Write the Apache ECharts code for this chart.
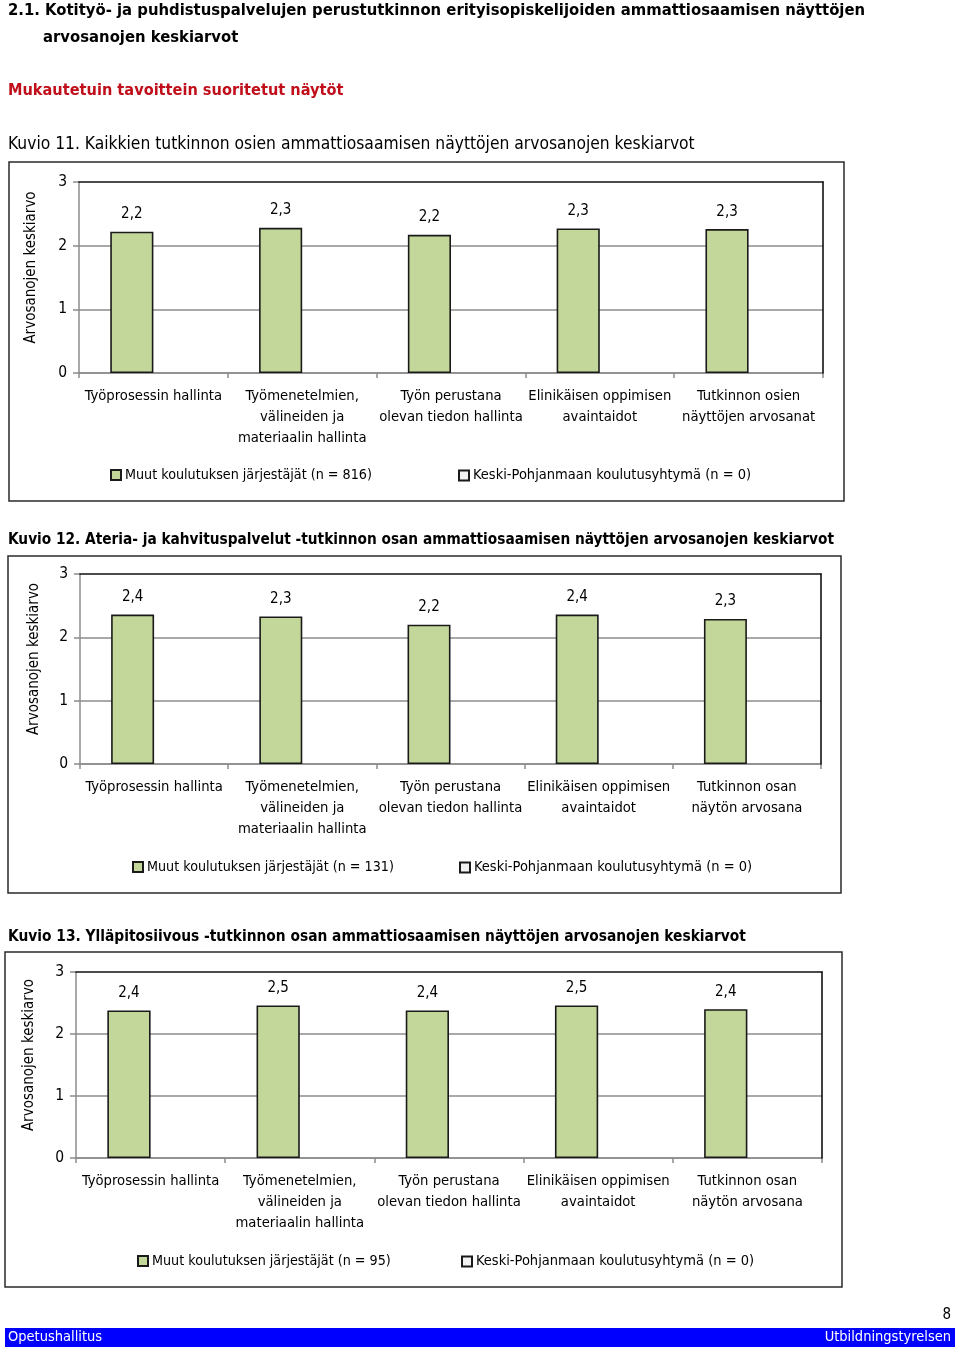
<!DOCTYPE html>
<html>
<head>
<meta charset="utf-8">
<script src="https://cdn.jsdelivr.net/npm/echarts@6/dist/echarts.min.js"></script>
<style>
html,body{margin:0;padding:0;background:#fff;}
#main{width:960px;height:1356px;}
</style>
</head>
<body>
<div id="main"></div>
<script>
// ---- Data ----
const categoriesKuvio11 = ["Työprosessin hallinta", "Työmenetelmien,\nvälineiden ja\nmateriaalin hallinta", "Työn perustana\nolevan tiedon hallinta", "Elinikäisen oppimisen\navaintaidot", "Tutkinnon osien\nnäyttöjen arvosanat"];
const categoriesKuvio12 = ["Työprosessin hallinta", "Työmenetelmien,\nvälineiden ja\nmateriaalin hallinta", "Työn perustana\nolevan tiedon hallinta", "Elinikäisen oppimisen\navaintaidot", "Tutkinnon osan\nnäytön arvosana"];
const categoriesKuvio13 = ["Työprosessin hallinta", "Työmenetelmien,\nvälineiden ja\nmateriaalin hallinta", "Työn perustana\nolevan tiedon hallinta", "Elinikäisen oppimisen\navaintaidot", "Tutkinnon osan\nnäytön arvosana"];

const muutKuvio11 = [2.22, 2.28, 2.17, 2.27, 2.26];
const muutKuvio12 = [2.36, 2.33, 2.20, 2.36, 2.29];
const muutKuvio13 = [2.38, 2.46, 2.38, 2.46, 2.40];
const keskiPohjanmaa = ['-', '-', '-', '-', '-'];

const seriesNames11 = ["Muut koulutuksen järjestäjät (n = 816)", "Keski-Pohjanmaan koulutusyhtymä (n = 0)"];
const seriesNames12 = ["Muut koulutuksen järjestäjät (n = 131)", "Keski-Pohjanmaan koulutusyhtymä (n = 0)"];
const seriesNames13 = ["Muut koulutuksen järjestäjät (n = 95)", "Keski-Pohjanmaan koulutusyhtymä (n = 0)"];

const yTicks = [0, 1, 2, 3];
const yAxisName = "Arvosanojen keskiarvo";

const headingLine1 = "2.1. Kotityö- ja puhdistuspalvelujen perustutkinnon erityisopiskelijoiden ammattiosaamisen näyttöjen";
const headingLine2 = "arvosanojen keskiarvot";
const subHeading = "Mukautetuin tavoittein suoritetut näytöt";
const caption11 = "Kuvio 11. Kaikkien tutkinnon osien ammattiosaamisen näyttöjen arvosanojen keskiarvot";
const caption12 = "Kuvio 12. Ateria- ja kahvituspalvelut -tutkinnon osan ammattiosaamisen näyttöjen arvosanojen keskiarvot";
const caption13 = "Kuvio 13. Ylläpitosiivous -tutkinnon osan ammattiosaamisen näyttöjen arvosanojen keskiarvot";
const footerLeft = "Opetushallitus";
const footerRight = "Utbildningstyrelsen";
const pageNumber = "8";

// ---- Styling / layout ----
const FONT = "'Liberation Sans Narrow','Arial Narrow','DejaVu Sans Condensed',sans-serif";
const FS = 14.5;
const GREEN = '#c4d79b';
const LIGHT = '#f2f2f2';
const GRAY = '#8c8c8c';

const layouts = [
  {grid:{left:79, top:182, width:744, height:191}, nameGap:40, legendTop:468, legendLeft:[110, 458], box:[9,162,835,339]},
  {grid:{left:80, top:574, width:741, height:190}, nameGap:38, legendTop:860, legendLeft:[132, 459], box:[8,556,833,337]},
  {grid:{left:76, top:972, width:746, height:186}, nameGap:39, legendTop:1254, legendLeft:[137, 461], box:[5,952,837,335]}
];
const chartData = [
  {cats:categoriesKuvio11, vals:muutKuvio11, names:seriesNames11},
  {cats:categoriesKuvio12, vals:muutKuvio12, names:seriesNames12},
  {cats:categoriesKuvio13, vals:muutKuvio13, names:seriesNames13}
];

const grids = [], xAxes = [], yAxes = [], series = [], legends = [];
chartData.forEach((cd, i) => {
  const L = layouts[i];
  grids.push(Object.assign({containLabel:false}, L.grid));
  // bottom category axis
  xAxes.push({
    type:'category', gridIndex:i, data:cd.cats, boundaryGap:true,
    axisLine:{show:true, lineStyle:{color:GRAY, width:1.5}},
    axisTick:{show:true, length:5, alignWithLabel:false, lineStyle:{color:GRAY, width:1.5}},
    axisLabel:{color:'#000', fontFamily:FONT, fontSize:FS + 0.2, lineHeight:21, margin:13, interval:0},
    splitLine:{show:false}
  });
  // top frame line
  xAxes.push({
    type:'category', gridIndex:i, data:cd.cats, position:'top', z:5,
    axisLine:{show:true, onZero:false, lineStyle:{color:'#111', width:1.6}},
    axisTick:{show:false}, axisLabel:{show:false}, splitLine:{show:false}
  });
  yAxes.push({
    type:'value', gridIndex:i, min:yTicks[0], max:yTicks[yTicks.length-1], interval:1,
    name:yAxisName, nameLocation:'middle', nameRotate:90, nameGap:L.nameGap,
    nameTextStyle:{color:'#000', fontFamily:FONT, fontSize:FS + 0.5, padding:[0, 0, 0, 20]},
    axisLine:{show:true, lineStyle:{color:GRAY, width:1.5}},
    axisTick:{show:true, length:6, lineStyle:{color:GRAY, width:1.5}},
    axisLabel:{color:'#000', fontFamily:FONT, fontSize:FS + 1, margin:12},
    splitLine:{show:true, showMaxLine:false, lineStyle:{color:GRAY, width:1.5}}
  });
  // right frame line
  yAxes.push({
    type:'value', gridIndex:i, min:0, max:3, interval:1, position:'right', z:5,
    axisLine:{show:true, onZero:false, lineStyle:{color:'#111', width:1.6}},
    axisTick:{show:false}, axisLabel:{show:false}, splitLine:{show:false}
  });
  series.push({
    type:'bar', name:cd.names[0], xAxisIndex:i*2, yAxisIndex:i*2, data:cd.vals,
    barWidth:'29%', barGap:'0%',
    itemStyle:{color:GREEN, borderColor:'#1a1a1a', borderWidth:1.6},
    label:{show:true, position:'top', distance:10, color:'#000', fontFamily:FONT, fontSize:FS + 0.5,
      formatter:p => p.value.toFixed(1).replace('.', ',')},
    emphasis:{disabled:true}, z:3
  });
  series.push({
    type:'bar', name:cd.names[1], xAxisIndex:i*2, yAxisIndex:i*2, data:keskiPohjanmaa,
    barWidth:'29%', barGap:'0%',
    itemStyle:{color:LIGHT, borderColor:'#1a1a1a', borderWidth:1.6},
    emphasis:{disabled:true}, z:3
  });
  cd.names.forEach((nm, k) => {
    legends.push({
      data:[nm], left:L.legendLeft[k], top:L.legendTop, orient:'horizontal', padding:0,
      icon:'rect', itemWidth:10, itemHeight:10, itemGap:4, selectedMode:false,
      textStyle:{color:'#000', fontFamily:FONT, fontSize:k === 0 ? FS - 0.3 : FS, padding:[0,0,0,-1]}
    });
  });
});

const graphics = [];
function addText(x, y, text, size, opts) {
  graphics.push({type:'text', x:x, y:y, silent:true, z:10,
    style:Object.assign({text:text, font:(opts && opts.weight ? opts.weight+' ' : '') + size + 'px ' + FONT,
      fill:(opts && opts.fill) || '#000', align:(opts && opts.align) || 'left', verticalAlign:'middle'})});
}
addText(8, 11, headingLine1, 16.5, {weight:'bold'});
addText(43, 38, headingLine2, 16.5, {weight:'bold'});
addText(8, 91, subHeading, 16.2, {weight:'bold', fill:'#c00f1a'});
addText(8, 145, caption11, 17.3, {});
addText(8, 540, caption12, 15.25, {weight:'bold'});
addText(8, 937, caption13, 15.35, {weight:'bold'});
layouts.forEach(L => {
  graphics.push({type:'rect', silent:true, z:-1,
    shape:{x:L.box[0], y:L.box[1], width:L.box[2], height:L.box[3]},
    style:{fill:'none', stroke:'#2a2a2a', lineWidth:1.5}});
});
graphics.push({type:'rect', silent:true, z:1, shape:{x:5, y:1328, width:950, height:19}, style:{fill:'#0000ff'}});
addText(8, 1337, footerLeft, 14.5, {fill:'#fff'});
addText(951, 1337, footerRight, 14.5, {fill:'#fff', align:'right'});
addText(951, 1315, pageNumber, 15, {align:'right'});

const chart = echarts.init(document.getElementById('main'), null, {renderer:'canvas'});
chart.setOption({
  animation:false,
  backgroundColor:'#fff',
  textStyle:{fontFamily:FONT},
  grid:grids, xAxis:xAxes, yAxis:yAxes, series:series, legend:legends,
  graphic:graphics
});
</script>
</body>
</html>
